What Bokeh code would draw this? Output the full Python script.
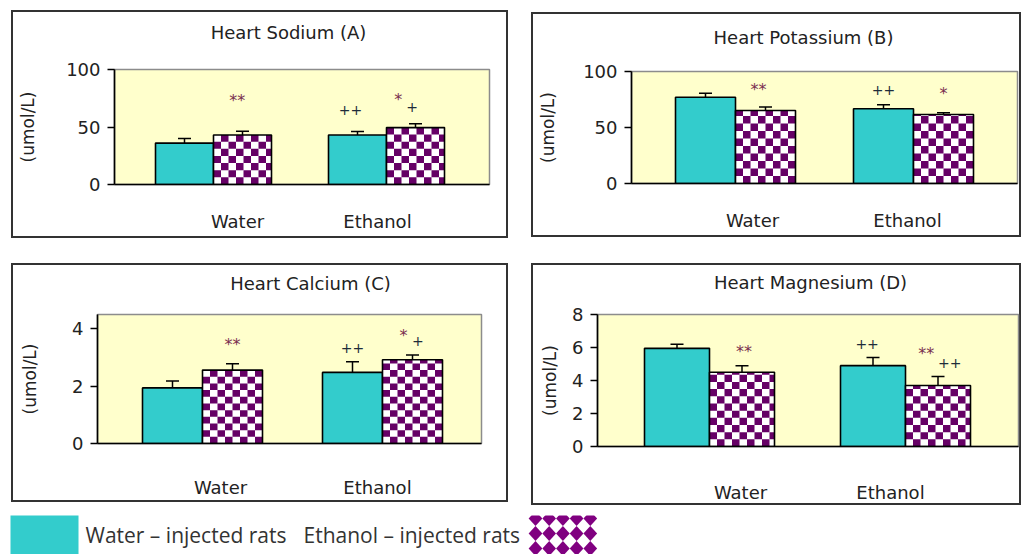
import math
from bokeh.plotting import figure
from bokeh.models import (ColumnDataSource, FixedTicker, Whisker, TeeHead, Range1d, LinearAxis)
from bokeh.layouts import row, column
from bokeh.embed import file_html
from bokeh.resources import INLINE
from bokeh.core.properties import value

# ---------------- data ----------------
groups = ["Water", "Ethanol"]
series_names = ["Water – injected rats", "Ethanol – injected rats"]
titles = ["Heart Sodium (A)", "Heart Potassium (B)", "Heart Calcium (C)", "Heart Magnesium (D)"]
y_label = "(umol/L)"

sodium_water = [36, 43]
sodium_water_sem = [4, 3]
sodium_ethanol = [43, 49.5]
sodium_ethanol_sem = [3.3, 3.3]

potassium_water = [77, 66.7]
potassium_water_sem = [3.6, 3.6]
potassium_ethanol = [65.2, 61.6]
potassium_ethanol_sem = [3, 1.5]

calcium_water = [1.94, 2.48]
calcium_water_sem = [0.24, 0.37]
calcium_ethanol = [2.56, 2.92]
calcium_ethanol_sem = [0.22, 0.17]

magnesium_water = [5.95, 4.9]
magnesium_water_sem = [0.25, 0.5]
magnesium_ethanol = [4.5, 3.7]
magnesium_ethanol_sem = [0.4, 0.55]

sodium_ticks = [0, 50, 100]
potassium_ticks = [0, 50, 100]
calcium_ticks = [0, 2, 4]
magnesium_ticks = [0, 2, 4, 6, 8]
y_max = [100, 100, 4.5, 8]

# significance marks: (group index, series index, text, y value, x shift)
sodium_marks = [(0, 1, "**", 72.7, -0.03), (1, 0, "++", 65, -0.04),
                (1, 1, "*", 73.5, -0.1), (1, 1, "+", 67.5, -0.02)]
potassium_marks = [(0, 1, "**", 83.6, -0.04), (1, 0, "++", 83.6, 0.0),
                   (1, 1, "*", 80, 0.0)]
calcium_marks = [(0, 1, "**", 3.45, 0.0), (1, 0, "++", 3.32, 0.0),
                 (1, 1, "*", 3.78, -0.05), (1, 1, "+", 3.56, 0.03)]
magnesium_marks = [(0, 1, "**", 5.76, 0.01), (1, 0, "++", 6.2, -0.03),
                   (1, 1, "**", 5.62, -0.06), (1, 1, "++", 5.08, 0.06)]

# ---------------- style / layout ----------------
CYAN = "#33CCCC"
PURPLE = "#660066"
PLOT_BG = "#FFFFCC"
TXT = "#222222"
STAR = "#7a3050"
PLUS = "#1e2c3a"
FONT = "DejaVu Sans"

# per panel (canvas = the framed box): size, margins, frame(l,t,r,b), group centres px,
# bar width px, category label px, label standoff, y-label standoff, title centre px / standoff
geoms = [
    dict(W=497, H=228, margin=(10, 12, 12, 11), frame=(103, 55, 478, 176), cen=(202, 375), bw=58,
         lab=(226, 366), xstand=20, ystand=25, tx=277, tstand=21),
    dict(W=490, H=225, margin=(12, 0, 13, 11), frame=(100, 59, 486, 171), cen=(204, 382), bw=60,
         lab=(221, 376), xstand=20, ystand=22, tx=272, tstand=18),
    dict(W=497, H=239, margin=(13, 12, 3, 11), frame=(86, 49, 470, 194), cen=(191, 371), bw=60,
         lab=(209, 366), xstand=27, ystand=29, tx=299, tstand=15),
    dict(W=490, H=242, margin=(13, 0, 0, 11), frame=(66, 51, 487, 189), cen=(178, 374), bw=65,
         lab=(209, 359), xstand=29, ystand=9, tx=279, tstand=16),
]
CELL = 7.5  # checker cell in px


def make_panel(title, wv, ws, ev, es, ticks, ymax, marks, g):
    l, t, r, b = g["frame"]
    c0, c1 = g["cen"]
    unit = float(c1 - c0)
    x0 = (l - c0) / unit
    x1 = (r - c0) / unit
    bw = g["bw"] / unit
    p = figure(width=g["W"], height=g["H"], x_range=Range1d(x0, x1), y_range=Range1d(0, ymax),
               min_border_left=l, min_border_right=g["W"] - r, min_border_top=t,
               min_border_bottom=g["H"] - b, margin=g["margin"], title=None,
               output_backend="svg", toolbar_location=None)
    p.styles = {"outline": "2px solid #333333", "outline-offset": "-2px"}
    p.background_fill_color = PLOT_BG
    p.border_fill_color = None
    p.outline_line_color = "#8c8c8c"
    p.outline_line_width = 1.5
    p.xgrid.visible = False
    p.ygrid.visible = False

    xs = list(range(len(groups)))
    xw = [x - bw / 2 for x in xs]
    xe = [x + bw / 2 for x in xs]

    # cyan bars
    p.vbar(x=xw, top=wv, width=bw, bottom=0, fill_color=CYAN, line_color="black", line_width=1.6)
    # checker bars
    p.vbar(x=xe, top=ev, width=bw, bottom=0, fill_color="white", line_color=None)
    cdx = CELL / unit
    cdy = CELL * ymax / (b - t)
    ql, qr, qb, qt = [], [], [], []
    for xc, top in zip(xe, ev):
        left = xc - bw / 2
        right = xc + bw / 2
        ncol = int(math.ceil((right - left) / cdx))
        nrow = int(math.ceil(top / cdy))
        for i in range(ncol):
            for j in range(nrow):
                if (i + j) % 2 == 1:
                    ql.append(left + i * cdx)
                    qr.append(min(left + (i + 1) * cdx, right))
                    qb.append(j * cdy)
                    qt.append(min((j + 1) * cdy, top))
    p.quad(left=ql, right=qr, bottom=qb, top=qt, fill_color=PURPLE, line_color=None)
    p.vbar(x=xe, top=ev, width=bw, bottom=0, fill_color=None, line_color="black", line_width=1.6)

    # error bars (upper only)
    src = ColumnDataSource(dict(base=xw + xe, lower=list(wv) + list(ev),
                                upper=[v + s for v, s in zip(wv, ws)] + [v + s for v, s in zip(ev, es)]))
    wh = Whisker(source=src, base="base", lower="lower", upper="upper", dimension="height",
                 line_color="black", line_width=1.5,
                 upper_head=TeeHead(size=13, line_color="black", line_width=1.5), lower_head=None)
    p.add_layout(wh)

    # significance marks
    for gi, si, txt, yv, dx in marks:
        xc = (xw if si == 0 else xe)[gi] + dx
        is_star = "*" in txt
        p.text(x=[xc], y=[yv], text=[txt], text_align="center", text_baseline="middle",
               text_font=value(FONT), text_font_size="16px" if is_star else "14px",
               text_color=STAR if is_star else PLUS)

    # y axis
    ya = p.yaxis[0]
    ya.ticker = FixedTicker(ticks=ticks)
    ya.minor_tick_line_color = None
    ya.major_tick_out = 7
    ya.major_tick_in = 0
    ya.major_tick_line_color = "black"
    ya.major_tick_line_width = 1.5
    ya.axis_line_color = "black"
    ya.axis_line_width = 1.6
    ya.major_label_standoff = 7
    ya.major_label_text_font = FONT
    ya.major_label_text_font_size = "18px"
    ya.major_label_text_color = TXT
    ya.axis_label = y_label
    ya.axis_label_text_font = FONT
    ya.axis_label_text_font_size = "17px"
    ya.axis_label_text_font_style = "normal"
    ya.axis_label_text_color = TXT
    ya.axis_label_standoff = g["ystand"]

    # x axis: category names
    lab_pos = [(px - c0) / unit for px in g["lab"]]
    xa = p.xaxis[0]
    xa.ticker = FixedTicker(ticks=lab_pos)
    xa.major_label_overrides = {lab_pos[i]: groups[i] for i in range(len(groups))}
    xa.major_tick_line_color = None
    xa.minor_tick_line_color = None
    xa.axis_line_color = "black"
    xa.axis_line_width = 1.6
    xa.major_label_standoff = g["xstand"]
    xa.major_label_text_font = FONT
    xa.major_label_text_font_size = "18px"
    xa.major_label_text_color = TXT

    # panel title, carried by a label-only axis above the plot area
    tpos = (g["tx"] - c0) / unit
    ta = LinearAxis(ticker=FixedTicker(ticks=[tpos]), major_label_overrides={tpos: title},
                    axis_line_color=None, major_tick_line_color=None, minor_tick_line_color=None,
                    major_label_standoff=g["tstand"], major_label_text_font=FONT,
                    major_label_text_font_size="18px", major_label_text_color=TXT)
    p.add_layout(ta, "above")
    return p


pA = make_panel(titles[0], sodium_water, sodium_water_sem, sodium_ethanol, sodium_ethanol_sem,
                sodium_ticks, y_max[0], sodium_marks, geoms[0])
pB = make_panel(titles[1], potassium_water, potassium_water_sem, potassium_ethanol,
                potassium_ethanol_sem, potassium_ticks, y_max[1], potassium_marks, geoms[1])
pC = make_panel(titles[2], calcium_water, calcium_water_sem, calcium_ethanol, calcium_ethanol_sem,
                calcium_ticks, y_max[2], calcium_marks, geoms[2])
pD = make_panel(titles[3], magnesium_water, magnesium_water_sem, magnesium_ethanol,
                magnesium_ethanol_sem, magnesium_ticks, y_max[3], magnesium_marks, geoms[3])

# ---------------- legend strip ----------------
LW, LH = 1021, 49
pl = figure(width=LW, height=LH, x_range=Range1d(0, LW), y_range=Range1d(LH, 0),
            min_border=0, output_backend="svg", toolbar_location=None)
pl.axis.visible = False
pl.xgrid.visible = False
pl.ygrid.visible = False
pl.outline_line_color = None
pl.background_fill_color = "white"
pl.border_fill_color = "white"

pl.quad(left=[10], right=[78], top=[10], bottom=[LH], fill_color=CYAN, line_color=None)
pl.text(x=[85, 303], y=[29, 29], text=series_names, text_align="left", text_baseline="middle",
        text_font=value("Open Sans"), text_font_size="21px", text_color="#333333")

# diamond swatch for the ethanol series
dxs, dys = [], []
hw, hh = 6.85, 7.5
for ry in [13, 28, 43]:
    for cx in [535 + 13.7 * k for k in range(5)]:
        dxs.append([cx - hw, cx, cx + hw, cx])
        dys.append([ry, ry - hh, ry, ry + hh])
pl.patches(xs=dxs, ys=dys, fill_color="#800080", line_color=None)
pl.quad(left=[524], right=[610], top=[0], bottom=[10], fill_color="white", line_color=None)
pl.quad(left=[597], right=[610], top=[0], bottom=[LH], fill_color="white", line_color=None)

layout = column(row(pA, pB), row(pC, pD), pl)

with open("out.html", "w") as f:
    f.write(file_html(layout, INLINE))
